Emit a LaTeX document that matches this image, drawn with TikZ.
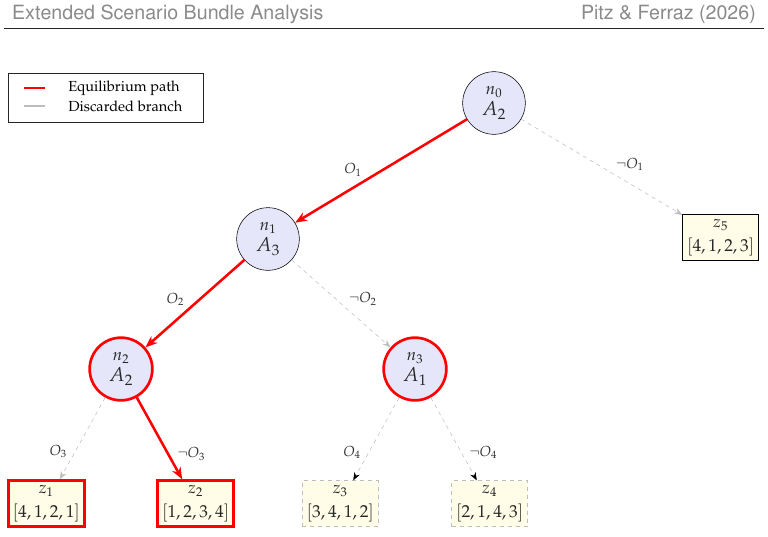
\documentclass[11pt,tikz,border=0pt]{standalone}
\usepackage[T1]{fontenc}
\usepackage{mathpazo}
\usepackage[scaled]{helvet}
\usepackage{xcolor}
\usepackage{tikz}
\usetikzlibrary{arrows.meta,positioning}
\definecolor{nodefill}{HTML}{E6E6FA}
\definecolor{leaffill}{HTML}{FFFDE8}
\definecolor{offgray}{HTML}{BDBDBD}
\definecolor{headgray}{HTML}{8A8A8A}
\newcommand{\bigtxt}{\fontsize{15}{17}\selectfont}
\newcommand{\listtxt}{\fontsize{13}{15}\selectfont}
\newcommand{\tagtxt}{\fontsize{12.5}{14}\selectfont}
\tikzstyle{decision} = [circle, draw, fill=nodefill, minimum size=47pt, inner sep=0pt, align=center, font=\bigtxt, text=black!85]
\tikzstyle{decisioneq} = [decision, draw=red, line width=2pt]
\tikzstyle{leaf} = [rectangle, draw, fill=leaffill, minimum width=57pt, minimum height=34.5pt, inner sep=1pt, align=center, font=\listtxt, text=black!85]
\tikzstyle{leafeq} = [leaf, draw=red, line width=2pt]
\tikzstyle{leafoff} = [leaf, draw=offgray, dashed]
\tikzstyle{eqpath} = [draw=red, line width=1.9pt, -{Stealth[length=9pt,width=7pt]}]
\tikzstyle{discard} = [draw=offgray, dashed, -{Stealth[length=6pt,width=4.5pt]}]
\tikzstyle{branch} = [font=\normalsize, text=black!80, inner sep=2pt]

\begin{document}
\begin{tikzpicture}[x=0.75pt, y=-0.75pt, node distance=101pt and 56pt, on grid, >=Stealth]
	\useasboundingbox (0,0) rectangle (768,536);
	% header
	\node[anchor=west, text=headgray, font=\sffamily\fontsize{15.5}{18}\selectfont] (title) at (7,14) {Extended Scenario Bundle Analysis};
	\node[anchor=east, text=headgray, font=\sffamily\fontsize{15.5}{18}\selectfont] (cite) at (761,14) {Pitz \& Ferraz (2026)};
	\draw[black!85, line width=0.6pt] (4,28) -- (764,28);
	% legend
	\draw[black!85, fill=white] (8,73) rectangle (203,122);
	\draw[red, line width=2.2pt] (24,88) -- (45,88);
	\draw[offgray, line width=1pt] (24,106) -- (45,106);
	\node[anchor=west, inner sep=0pt] (leqpath) at (68,88) {Equilibrium path};
	\node[anchor=west, inner sep=0pt] (ldiscard) at (68,106) {Discarded branch};
	% tree
	\node[decision] (n0) at (494,103) {{\tagtxt$n_0$}\\[-1pt]$A_2$};
	\node[decision] (n1) [below left=102pt and 169.5pt of n0] {{\tagtxt$n_1$}\\[-1pt]$A_3$};
	\node[leaf] (z5) [below right=101pt and 170pt of n0] {{\tagtxt$z_5$}\\[3pt]$[4,1,2,3]$};
	\node[decisioneq] (n2) [below left=97.5pt and 110.25pt of n1] {{\tagtxt$n_2$}\\[-1pt]$A_2$};
	\node[decisioneq] (n3) [below right=97.5pt and 110.25pt of n1] {{\tagtxt$n_3$}\\[-1pt]$A_1$};
	\node[leafeq] (z1) [below left=of n2] {{\tagtxt$z_1$}\\[3pt]$[4,1,2,1]$};
	\node[leafeq] (z2) [below right=of n2] {{\tagtxt$z_2$}\\[3pt]$[1,2,3,4]$};
	\node[leafoff] (z3) [below left=of n3] {{\tagtxt$z_3$}\\[3pt]$[3,4,1,2]$};
	\node[leafoff] (z4) [below right=of n3] {{\tagtxt$z_4$}\\[3pt]$[2,1,4,3]$};
	% branches
	\draw[eqpath] (n0) -- node[branch, pos=0.59, above left] {$O_1$} (n1);
	\draw[discard] (n0) -- node[branch, pos=0.57, above right] {$\neg O_1$} (z5);
	\draw[eqpath] (n1) -- node[branch, pos=0.57, above left] {$O_2$} (n2);
	\draw[discard] (n1) -- node[branch, pos=0.55, above right] {$\neg O_2$} (n3);
	\draw[discard] (n2) -- node[branch, pos=0.66, left=4pt] {$O_3$} (z1);
	\draw[eqpath] (n2) -- node[branch, pos=0.69, right=4pt] {$\neg O_3$} (z2);
	\draw[discard, -{Stealth[length=6pt,width=4.5pt,black]}] (n3) -- node[branch, pos=0.66, left=4pt] {$O_4$} (z3);
	\draw[discard, -{Stealth[length=6pt,width=4.5pt,black]}] (n3) -- node[branch, pos=0.66, right=4pt] {$\neg O_4$} (z4);
\end{tikzpicture}
\end{document}
